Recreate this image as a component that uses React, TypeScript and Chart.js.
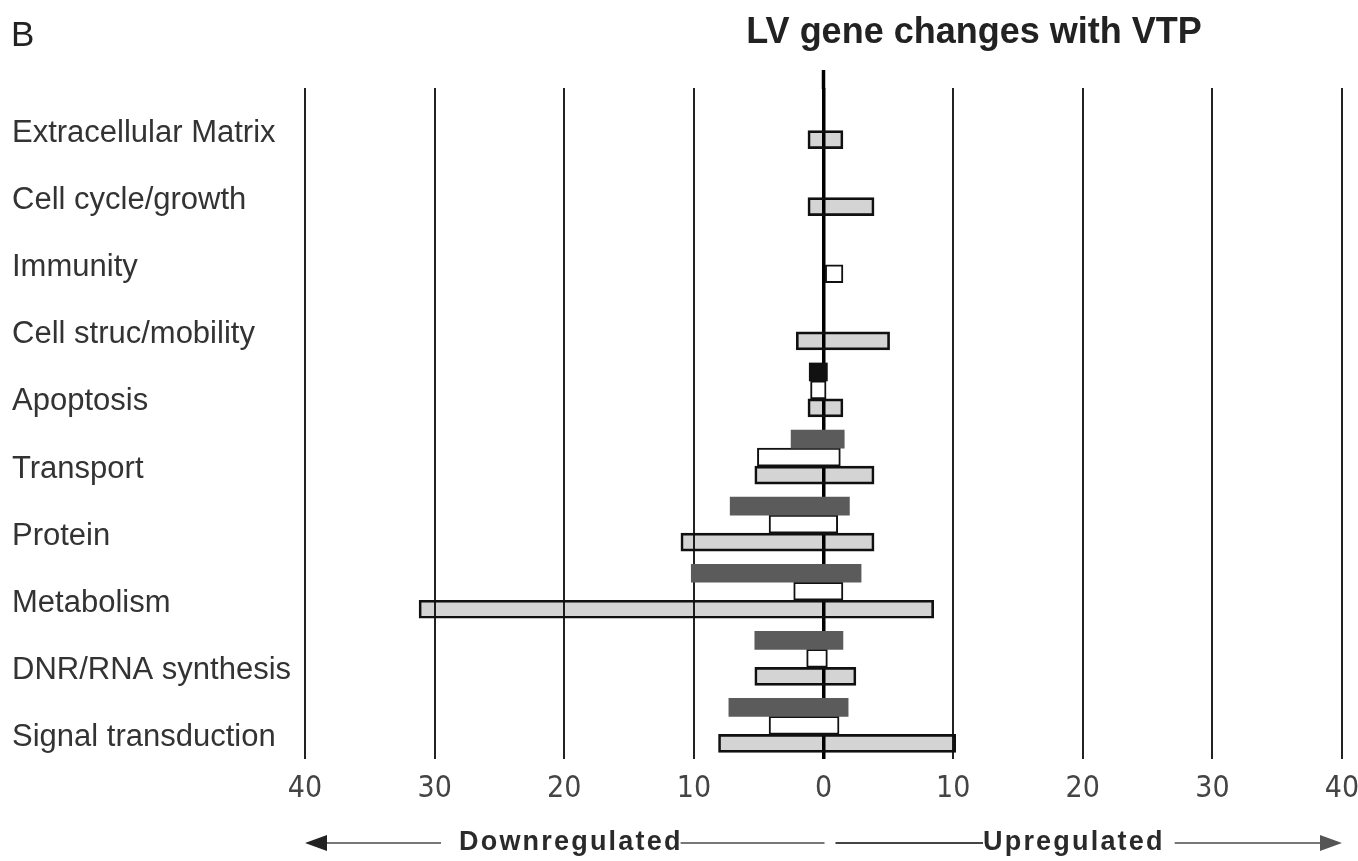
import React, { useEffect, useRef } from 'react';
import { Chart, registerables } from 'chart.js';

Chart.register(...registerables);

// ---- data ----
const categories = [
  'Extracellular Matrix',
  'Cell cycle/growth',
  'Immunity',
  'Cell struc/mobility',
  'Apoptosis',
  'Transport',
  'Protein',
  'Metabolism',
  'DNR/RNA synthesis',
  'Signal transduction',
];

// dark grey series (top bar of each group)
const darkSeries: ([number, number] | null)[] = [
  null, null, null, null,
  [-1.1, 0.3],
  [-2.5, 1.6],
  [-7.2, 2.0],
  [-10.2, 2.9],
  [-5.3, 1.5],
  [-7.3, 1.9],
];

// white series (middle bar)
const whiteSeries: ([number, number] | null)[] = [
  null, null, null, null,
  [-1.0, 0.2],
  [-5.1, 1.3],
  [-4.2, 1.1],
  [-2.3, 1.5],
  [-1.3, 0.3],
  [-4.2, 1.2],
];

// light grey series (bottom bar)
const lightSeries: ([number, number] | null)[] = [
  [-1.2, 1.5],
  [-1.2, 3.9],
  [0, 1.5],
  [-2.1, 5.1],
  [-1.2, 1.5],
  [-5.3, 3.9],
  [-11.0, 3.9],
  [-31.2, 8.5],
  [-5.3, 2.5],
  [-8.1, 10.2],
];

const xMin = -40;
const xMax = 40;
const xStep = 10;

const titleText = 'LV gene changes with VTP';
const panelLetter = 'B';
const downText = 'Downregulated';
const upText = 'Upregulated';

const SANS = '"Liberation Sans", Arial, Helvetica, sans-serif';
const NARROW = '"Liberation Sans Narrow", "Arial Narrow", "DejaVu Sans Condensed", sans-serif';

const decorPlugin = {
  id: 'decor',
  beforeDatasetsDraw(chart: any) {
    const { ctx, chartArea, scales } = chart;
    const x0 = scales.x.getPixelForValue(0);
    ctx.save();
    ctx.strokeStyle = '#000';
    ctx.lineWidth = 3.5;
    ctx.beginPath();
    ctx.moveTo(x0, chartArea.top - 18);
    ctx.lineTo(x0, chartArea.top + 1);
    ctx.stroke();
    ctx.restore();
  },
  afterDraw(chart: any) {
    const { ctx, scales } = chart;
    const xs = scales.x;
    const xL = xs.getPixelForValue(xMin);
    const xR = xs.getPixelForValue(xMax);
    const x0 = xs.getPixelForValue(0);
    ctx.save();
    // panel letter
    ctx.fillStyle = '#222';
    ctx.font = `35px ${SANS}`;
    ctx.textAlign = 'left';
    ctx.textBaseline = 'alphabetic';
    ctx.fillText(panelLetter, 11, 46);
    // title
    ctx.font = `bold 36px ${SANS}`;
    ctx.textAlign = 'center';
    ctx.fillText(titleText, 974, 43);

    // bottom arrows
    const y = 843;
    ctx.font = `bold 27px ${SANS}`;
    (ctx as any).letterSpacing = '2.2px';
    ctx.textAlign = 'left';
    ctx.textBaseline = 'middle';
    const downX = 459;
    const dw = ctx.measureText(downText).width;
    ctx.fillStyle = '#2a2a2a';
    ctx.fillText(downText, downX, y);
    const upX = 983;
    const uw = ctx.measureText(upText).width;
    ctx.fillText(upText, upX, y);
    (ctx as any).letterSpacing = '0px';

    ctx.lineWidth = 2;
    const line = (a: number, b: number, c: string) => {
      ctx.strokeStyle = c;
      ctx.beginPath();
      ctx.moveTo(a, y);
      ctx.lineTo(b, y);
      ctx.stroke();
    };
    line(xL + 10, downX - 18, '#777');
    line(downX + dw - 2, x0 + 1, '#777');
    line(x0 + 12, upX, '#444');
    line(upX + uw + 10, xR - 12, '#777');
    // arrow heads
    ctx.fillStyle = '#222';
    ctx.beginPath();
    ctx.moveTo(xL, y);
    ctx.lineTo(xL + 22, y - 8);
    ctx.lineTo(xL + 22, y + 8);
    ctx.closePath();
    ctx.fill();
    ctx.fillStyle = '#555';
    ctx.beginPath();
    ctx.moveTo(xR, y);
    ctx.lineTo(xR - 22, y - 8);
    ctx.lineTo(xR - 22, y + 8);
    ctx.closePath();
    ctx.fill();
    ctx.restore();
  },
};

export default function App() {
  const canvasRef = useRef<HTMLCanvasElement | null>(null);

  useEffect(() => {
    if (!canvasRef.current) return;
    const darkColors = categories.map((c) => (c === 'Apoptosis' ? '#111111' : '#5b5b5b'));
    const lightColors = categories.map((c) => (c === 'Immunity' ? '#ffffff' : 'rgba(0,0,0,0.17)'));

    const chart = new Chart(canvasRef.current, {
      type: 'bar',
      data: {
        labels: categories,
        datasets: [
          {
            label: 'dark',
            data: darkSeries as any,
            backgroundColor: darkColors,
            borderWidth: 0,
            borderSkipped: false,
            barThickness: 18,
          },
          {
            label: 'white',
            data: whiteSeries as any,
            backgroundColor: '#ffffff',
            borderColor: '#111',
            borderWidth: 2,
            borderSkipped: false,
            barThickness: 18,
          },
          {
            label: 'light',
            data: lightSeries as any,
            backgroundColor: lightColors,
            borderColor: '#111',
            borderWidth: 2,
            borderSkipped: false,
            barThickness: 18,
          },
        ],
      },
      options: {
        indexAxis: 'y',
        animation: false,
        responsive: true,
        maintainAspectRatio: false,
        devicePixelRatio: 1,
        layout: { padding: { top: 88, right: 16, left: 12, bottom: 0 } },
        plugins: {
          legend: { display: false },
          title: { display: false },
          tooltip: { enabled: false },
        },
        scales: {
          x: {
            type: 'linear',
            min: xMin,
            max: xMax,
            afterFit: (scale: any) => {
              scale.height = 102;
              scale.paddingLeft = 0;
              scale.paddingRight = 0;
            },
            ticks: {
              stepSize: xStep,
              callback: (v: any) => String(Math.abs(Number(v))),
              color: '#444',
              font: { family: NARROW, size: 30 },
              padding: 12,
              maxRotation: 0,
            },
            grid: {
              drawTicks: false,
              color: (c: any) => (c.tick && c.tick.value === 0 ? '#000' : '#222'),
              lineWidth: (c: any) => (c.tick && c.tick.value === 0 ? 3.5 : 2),
            },
            border: { display: false },
          },
          y: {
            type: 'category',
            afterFit: (scale: any) => {
              scale.width = 293;
            },
            ticks: {
              crossAlign: 'far',
              autoSkip: false,
              labelOffset: 12,
              color: '#333',
              font: { family: SANS, size: 31 },
            },
            grid: { display: false, drawTicks: false },
            border: { display: false },
          },
        },
      },
      plugins: [decorPlugin],
    });
    return () => chart.destroy();
  }, []);

  return (
    <div style={{ position: 'absolute', left: 0, top: 0, width: 1358, height: 861, background: '#fff' }}>
      <canvas ref={canvasRef} />
    </div>
  );
}
